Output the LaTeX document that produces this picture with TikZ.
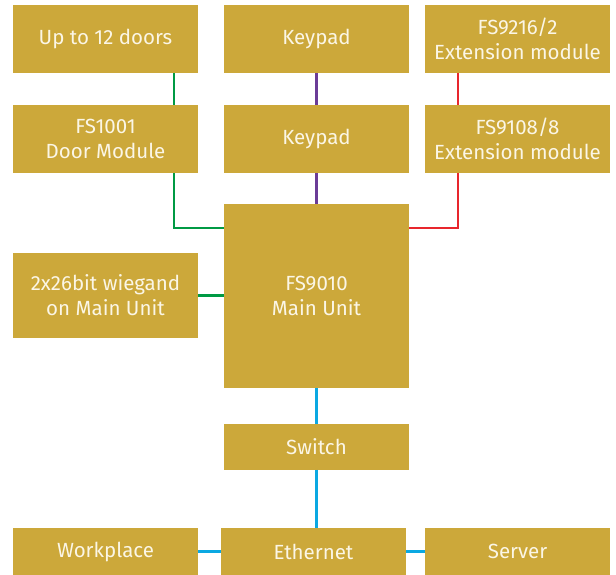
\documentclass[tikz,border=0pt]{standalone}
\usepackage{fontspec}
\setmainfont{Fira Sans}
\usepackage{tikz}

\definecolor{gold}{HTML}{CCA83A}
\definecolor{txt}{HTML}{FBF6E6}
\definecolor{lgreen}{HTML}{009A44}
\definecolor{lpurple}{HTML}{6B3C97}
\definecolor{lred}{HTML}{E8262D}
\definecolor{lblue}{HTML}{0BA8E2}

\begin{document}
\begin{tikzpicture}[x=1pt,y=-1pt]

\tikzset{unit/.style = {shape=rectangle,fill=gold,text=txt,align=center,
  minimum width=185pt,minimum height=68pt,inner sep=0pt,
  font=\fontsize{20.5}{25}\selectfont}}
\tikzset{wire/.style = {line width=2.8pt}}

\useasboundingbox (0,0) rectangle (616,575);

\node[unit] (doors) at  (105.5,39) {Up to 12 doors};
\node[unit] (keyA) at  (316.5,39) {Keypad};
\node[unit] (extA) at  (517.5,39) {FS9216/2\\Extension module};
\node[unit] (door) at  (105.5,139) {FS1001\\Door Module};
\node[unit] (keyB) at  (316.5,139) {Keypad};
\node[unit] (extB) at  (517.5,139) {FS9108/8\\Extension module};
\node[unit,minimum height=184pt] (main) at  (316.5,296) {FS9010\\Main Unit};
\node[unit,minimum height=85pt] (wieg) at  (105.5,295.5) {2x26bit wiegand\\on Main Unit};
\node[unit,minimum height=45.5pt] (switch) at  (316.5,446.75) {Switch};
\node[unit,minimum height=47pt] (work) at  (105.5,551.5) {Workplace};
\node[unit,minimum height=47pt] (eth) at  (313.5,551.5) {Ethernet};
\node[unit,minimum height=47pt] (server) at  (517.5,551.5) {Server};

\draw[wire,lgreen] ([xshift=68.5pt]doors.south) to ([xshift=68.5pt]door.north);
\draw[wire,lgreen] ([xshift=68.5pt]door.south) |- ([yshift=68pt]main.west);
\draw[wire,lgreen] (wieg.east) to (main.west |- wieg.east);
\draw[wire,lpurple] (keyA) to (keyB);
\draw[wire,lpurple] (keyB) to (main);
\draw[wire,lred] ([xshift=-59.5pt]extA.south) to ([xshift=-59.5pt]extB.north);
\draw[wire,lred] ([xshift=-59.5pt]extB.south) |- ([yshift=68pt]main.east);
\draw[wire,lblue] (main) to (switch);
\draw[wire,lblue] (switch.south) to (switch.south |- eth.north);
\draw[wire,lblue] (eth) to (work);
\draw[wire,lblue] (eth) to (server);

\end{tikzpicture}
\end{document}
